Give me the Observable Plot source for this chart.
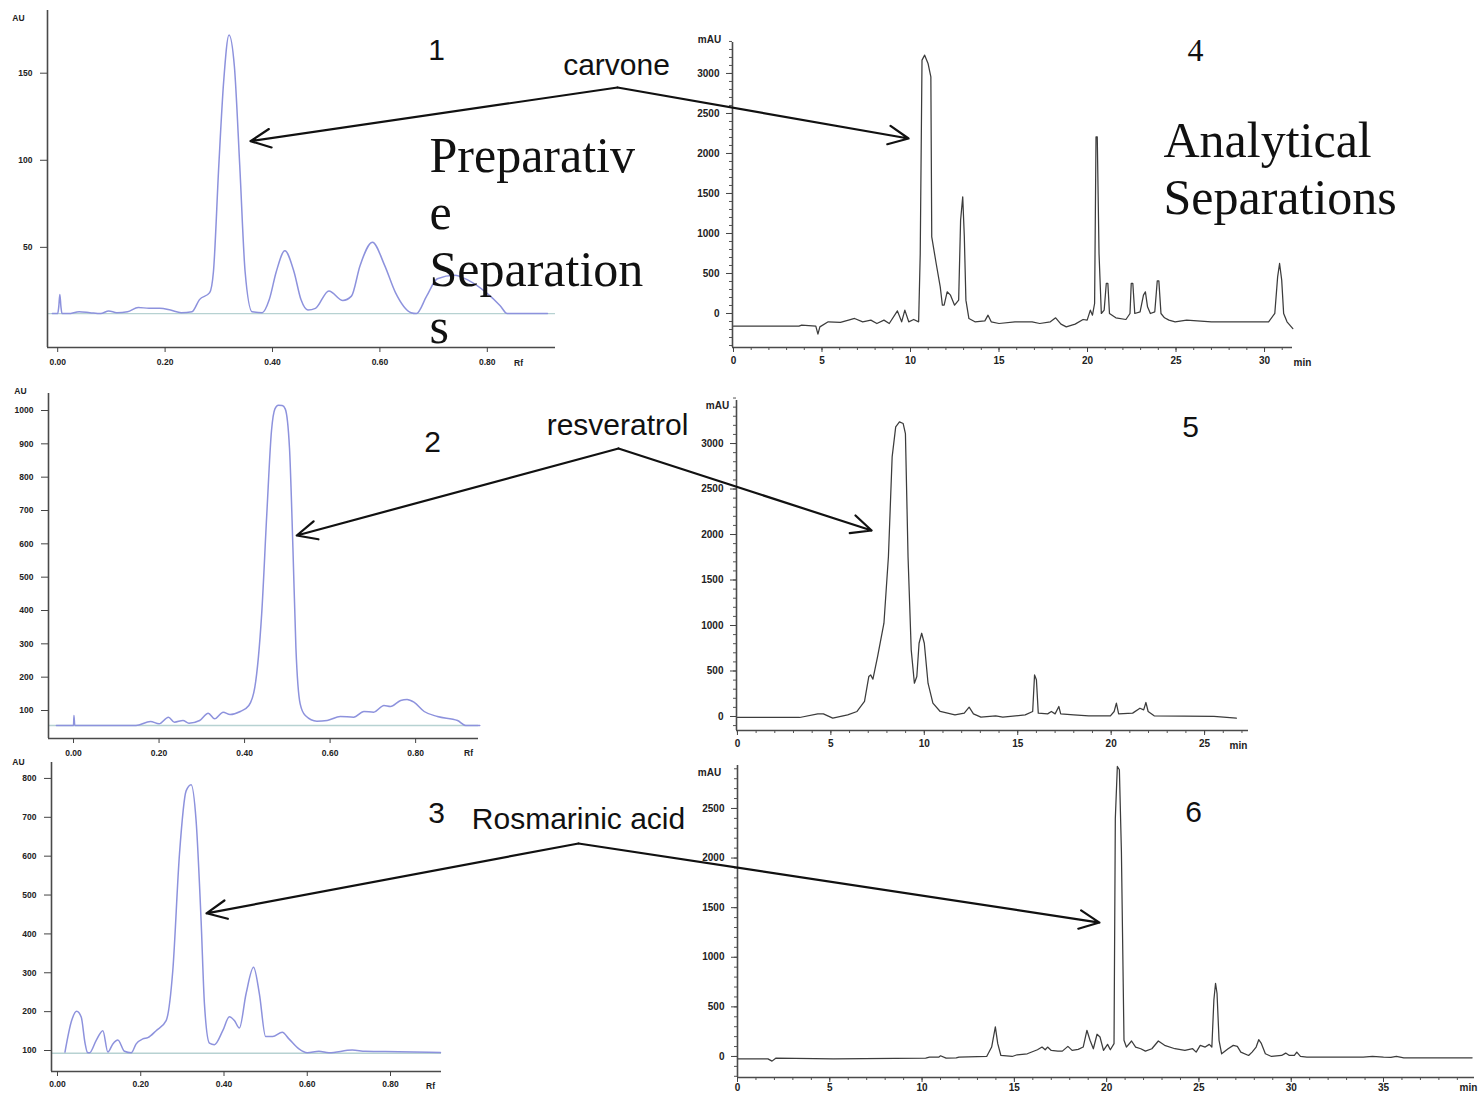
<!DOCTYPE html>
<html><head><meta charset="utf-8">
<script src="https://cdn.jsdelivr.net/npm/d3@7"></script>
<script src="https://cdn.jsdelivr.net/npm/@observablehq/plot@0.6"></script>
<style>
body{margin:0;background:#fff;}
#root{position:relative;width:1479px;height:1093px;overflow:hidden;background:#fff;}
</style></head><body><div id="root"></div>
<script>
// ---------- DATA ----------
// Panel 1: TLC densitogram (Rf vs AU)
const rf1 = [-0.010,0.000,0.002,0.004,0.006,0.008,0.020,0.040,0.060,0.080,0.095,0.110,0.130,0.150,0.170,0.190,0.210,0.230,0.250,0.264,0.283,0.290,0.300,0.309,0.319,0.329,0.339,0.349,0.362,0.381,0.394,0.407,0.423,0.440,0.453,0.466,0.480,0.505,0.531,0.547,0.563,0.586,0.609,0.629,0.658,0.668,0.687,0.707,0.739,0.765,0.798,0.824,0.837,0.912];
const au1 = [12,12,16,23,16,12,12,13,12.5,12,13.5,12.5,13,15.5,15,15,14,12.5,13,20,24,36,97,145,172,154,97,36,13,12.5,20,36,48,36,20,14,15,25,19.5,22,39.5,53,39.5,24,12.5,12,22,32,34,31,24,16.5,12,12];
// Panel 2
const rf2 = [-0.040,0.000,0.001,0.003,0.050,0.146,0.180,0.200,0.222,0.236,0.256,0.270,0.295,0.315,0.330,0.350,0.366,0.390,0.410,0.424,0.440,0.452,0.463,0.471,0.479,0.488,0.495,0.505,0.513,0.520,0.530,0.542,0.569,0.593,0.624,0.655,0.679,0.702,0.726,0.741,0.765,0.780,0.796,0.820,0.851,0.898,0.917,0.950];
const au2 = [55,55,85,55,55,55,67,60,80,65,70,62,70,92,75,95,88,97,115,170,390,690,940,1005,1016,1015,1005,888,590,290,120,85,68,70,82,80,97,95,115,112,130,133,125,97,82,70,55,55];
// Panel 3
const rf3 = [0.018,0.034,0.046,0.057,0.066,0.072,0.077,0.093,0.109,0.121,0.133,0.145,0.161,0.177,0.189,0.205,0.217,0.237,0.261,0.277,0.293,0.309,0.321,0.333,0.345,0.353,0.365,0.377,0.397,0.413,0.425,0.437,0.453,0.471,0.485,0.500,0.517,0.540,0.556,0.580,0.600,0.628,0.652,0.708,0.740,0.820,0.920];
const au3 = [96,177,201,186,120,95,94,126,151,96,117,127,98,94,117,130,133,151,177,306,605,768,784,691,434,220,119,115,151,187,177,158,246,314,246,136,136,147,130,104,94,98,94,101,98,97,95];
// Panel 4: HPLC (min vs mAU)
const t4 = [0,3.7,3.85,4.65,4.77,4.88,5.35,6.04,6.5,6.84,7.3,7.76,8.1,8.5,8.8,9.26,9.5,9.68,9.9,10.18,10.46,10.55,10.65,10.8,10.99,11.15,11.2,11.45,11.68,11.8,11.9,12.07,12.26,12.49,12.72,12.83,12.95,13.04,13.13,13.3,13.64,14.2,14.38,14.56,15.0,15.9,16.87,17.3,17.9,18.2,18.5,18.8,19.3,19.75,19.98,20.16,20.28,20.4,20.48,20.55,20.65,20.78,20.94,21.06,21.15,21.24,21.6,22.17,22.4,22.47,22.56,22.67,22.97,23.16,23.27,23.39,23.55,23.8,23.94,24.03,24.15,24.35,24.6,24.95,25.6,27,30.23,30.58,30.74,30.85,30.97,31.08,31.27,31.6];
const m4 = [-158,-158,-146,-158,-258,-167,-104,-110,-83,-62,-104,-83,-125,-83,-125,33,-104,42,-104,-75,-104,750,3167,3229,3125,2958,958,625,333,104,104,271,229,104,167,1167,1458,958,167,-63,-104,-92,-21,-104,-125,-104,-104,-125,-104,-54,-133,-167,-133,-75,-83,42,-21,125,2208,2208,750,0,42,375,375,0,-54,-75,0,375,375,0,21,229,271,83,0,21,408,408,0,-54,-83,-104,-83,-104,-104,0,458,625,417,0,-104,-188];
// Panel 5
const t5 = [0,3.33,4.3,4.6,5.1,5.9,6.4,6.8,7.03,7.13,7.25,7.5,7.84,8.08,8.28,8.47,8.67,8.87,8.99,9.13,9.3,9.47,9.6,9.72,9.86,10.0,10.2,10.46,10.85,11.64,12.14,12.4,12.63,13.03,13.82,14.2,15.4,15.8,15.9,16.0,16.1,16.6,16.8,17.0,17.2,17.3,18.0,18.8,19.96,20.16,20.28,20.4,21.15,21.54,21.74,21.86,21.98,22.3,25.5,26.7];
const m5 = [-11,-11,29,29,-18,18,55,165,439,457,410,659,1025,1756,2854,3183,3238,3220,3110,1756,732,366,439,805,915,805,366,146,55,18,37,102,29,-7,7,-7,18,55,457,403,37,29,55,29,110,29,18,7,7,55,146,29,37,91,73,154,55,7,0,-18];
// Panel 6
const t6 = [0,1.65,1.87,2.07,5.2,10.2,10.4,10.9,11.0,11.3,11.85,12.0,13.5,13.77,13.97,14.1,14.27,14.88,15.15,15.7,16.25,16.5,16.67,16.8,17.0,17.36,17.6,17.9,18.13,18.46,18.73,18.93,19.1,19.28,19.48,19.64,19.83,20.05,20.2,20.4,20.47,20.58,20.69,20.8,20.94,21.07,21.35,21.57,21.85,22.1,22.45,22.8,23.14,23.7,24.24,24.66,24.85,25.07,25.34,25.56,25.7,25.81,25.9,25.98,26.09,26.23,26.58,26.86,27.08,27.27,27.69,27.88,28.1,28.24,28.37,28.6,28.93,29.48,29.7,29.9,30.17,30.3,30.5,30.85,33.9,34.4,35.0,35.4,35.7,36.1,39.8];
const m6 = [-24,-24,-47,-17,-24,-17,-7,-7,7,-17,-14,-7,0,95,298,129,10,0,17,27,68,95,68,95,61,54,54,102,61,71,95,264,163,78,224,196,61,122,68,129,2398,2923,2890,2060,163,95,156,95,78,54,78,156,112,78,61,78,44,112,95,122,95,569,738,637,163,27,78,112,102,44,10,44,95,169,135,27,0,10,34,10,10,44,0,-7,-7,0,-7,-10,0,-14,-14];

// Tick values
const rfTicks = [0, 0.2, 0.4, 0.6, 0.8];
const au1Ticks = [50, 100, 150];
const au2Ticks = [100, 200, 300, 400, 500, 600, 700, 800, 900, 1000];
const au3Ticks = [100, 200, 300, 400, 500, 600, 700, 800];
const min4Ticks = [0, 5, 10, 15, 20, 25, 30];
const min5Ticks = [0, 5, 10, 15, 20, 25];
const min6Ticks = [0, 5, 10, 15, 20, 25, 30, 35];
const mau4Ticks = [0, 500, 1000, 1500, 2000, 2500, 3000];
const mau5Ticks = [0, 500, 1000, 1500, 2000, 2500, 3000];
const mau6Ticks = [0, 500, 1000, 1500, 2000, 2500];

// Annotation texts
const panelNumbers = ["1", "2", "3", "4", "5", "6"];
const compounds = ["carvone", "resveratrol", "Rosmarinic acid"];
// target of each arrow, in the data units of the panel it points at [x, y]
const targets = [[0.359, 111], [9.89, 2187], [0.522, 625], [7.18, 2044], [0.358, 453], [19.61, 1350]];
const headings = ["Preparativ\ne\nSeparation\ns", "Analytical\nSeparations"];

// ---------- LAYOUT ----------
const PAGE_W = 1479, PAGE_H = 1093;
const zip = (a, b) => a.map((v, i) => ({x: v, y: b[i]}));
const range = (a, b, s) => d3.range(a, b + s / 2, s);

const panels = [
  {kind:"tlc", pts: zip(rf1, au1), frame:{l:47,r:555,t:10,b:347},  x:[-0.019,0.927], y:[-7.5,186], xt:rfTicks, yt:au1Ticks, base:12, ylab:"AU", yl:[-29,8],  xlab:"Rf", xl:[-37,16], pad:6},
  {kind:"tlc", pts: zip(rf2, au2), frame:{l:48,r:478,t:393,b:738}, x:[-0.0585,0.947], y:[16,1051], xt:rfTicks, yt:au2Ticks, base:55, ylab:"AU", yl:[-28,-2], xlab:"Rf", xl:[-10,15], pad:6},
  {kind:"tlc", pts: zip(rf3, au3), frame:{l:51,r:441,t:762,b:1071}, x:[-0.0144,0.9225], y:[46,841], xt:rfTicks, yt:au3Ticks, base:93, ylab:"AU", yl:[-33,0], xlab:"Rf", xl:[-11,15], pad:4},
  {kind:"lc", pts: zip(t4, m4), frame:{l:732,r:1292,t:42,b:347},  x:[-0.056,31.58], y:[-425,3387], xt:min4Ticks, yt:mau4Ticks, ylab:"mAU", yl:[-23,-3], xlab:"min", xl:[10,15], pad:4},
  {kind:"lc", pts: zip(t5, m5), frame:{l:736,r:1248,t:400,b:730}, x:[-0.05,27.35], y:[-154,3473], xt:min5Ticks, yt:mau5Ticks, ylab:"mAU", yl:[-19,5], xlab:"min", xl:[-10,15], pad:4},
  {kind:"lc", pts: zip(t6, m6), frame:{l:737,r:1474,t:765,b:1077}, x:[0,39.93], y:[-212,2933], xt:min6Ticks, yt:mau6Ticks, ylab:"mAU", yl:[-28,7], xlab:"min", xl:[-6,10], pad:1}
];

const root = document.getElementById("root");
const SANS = "Liberation Sans, Arial, sans-serif";
const SERIF = "Liberation Serif, Times New Roman, serif";
const placed = [];

panels.forEach((p, i) => {
  // keep every panel's SVG box inside the page
  const ML = Math.min(52, p.frame.l), MR = Math.min(42, PAGE_W - p.frame.r);
  const MT = Math.min(18, p.frame.t), MB = Math.min(28, PAGE_H - p.frame.b);
  const W = p.frame.r - p.frame.l + ML + MR;
  const H = p.frame.b - p.frame.t + MT + MB;
  const left = p.frame.l - ML, top = p.frame.t - MT;
  const tlc = p.kind === "tlc";
  const fs = tlc ? 8.5 : 10;
  const marks = [];
  if (tlc) marks.push(Plot.ruleY([p.base], {stroke: "#b7d2d2", strokeWidth: 1.3}));
  marks.push(Plot.line(p.pts, {x: "x", y: "y", stroke: tlc ? "#8d92dd" : "#3c3c3c", strokeWidth: tlc ? 1.5 : 1.25, curve: tlc ? "monotone-x" : "linear"}));
  if (!tlc) {
    // minor ticks (unlabelled): zero-length rules on the axis, extended outward by negative insets
    marks.push(Plot.ruleX(range(0, Math.floor(p.x[1]), 1), {y1: p.y[0], y2: p.y[0], insetBottom: -3, insetTop: 0, stroke: "#555", strokeWidth: 1}));
    marks.push(Plot.ruleY(range(Math.ceil(p.y[0] / 100) * 100, p.y[1], 100), {x1: p.x[0], x2: p.x[0], insetLeft: -3, insetRight: 0, stroke: "#555", strokeWidth: 1}));
  }
  marks.push(Plot.ruleX([p.x[0]], {stroke: "#4a4a4a", strokeWidth: 1.6}));
  marks.push(Plot.ruleY([p.y[0]], {stroke: "#4a4a4a", strokeWidth: 1.6}));
  marks.push(Plot.axisX({ticks: p.xt, tickSize: 5, tickPadding: p.pad, tickFormat: tlc ? d3.format(".2f") : d3.format("d"),
    fontSize: fs, fontWeight: "bold", fontFamily: SANS, label: null, stroke: "#444"}));
  marks.push(Plot.axisY({ticks: p.yt, tickSize: tlc ? 7 : 6, tickPadding: tlc ? 8 : 7, tickFormat: d3.format("d"),
    fontSize: fs, fontWeight: "bold", fontFamily: SANS, label: null, stroke: "#444"}));
  marks.push(Plot.text([p.ylab], {text: d => d, frameAnchor: "top-left", dx: p.yl[0], dy: p.yl[1], fontSize: fs, fontWeight: "bold", fontFamily: SANS, textAnchor: "middle", lineAnchor: "middle"}));
  marks.push(Plot.text([p.xlab], {text: d => d, frameAnchor: "bottom-right", dx: p.xl[0], dy: p.xl[1], fontSize: fs, fontWeight: "bold", fontFamily: SANS, textAnchor: "middle", lineAnchor: "middle"}));

  const chart = Plot.plot({
    width: W, height: H, marginLeft: ML, marginRight: MR, marginTop: MT, marginBottom: MB,
    x: {domain: p.x, label: null},
    y: {domain: p.y, label: null},
    style: {position: "absolute", left: left + "px", top: top + "px", background: "transparent", overflow: "visible", color: "#222"},
    marks
  });
  root.appendChild(chart);
  placed.push({chart, left, top});
});

// page position of a data point in a given panel
function toPage(i, [x, y]) {
  const c = placed[i];
  return [c.left + c.chart.scale("x").apply(x), c.top + c.chart.scale("y").apply(y)];
}

// Arrow origins: bottom-centre of each compound label; left arrow to panel 1/2/3, right to 4/5/6
const labelLayout = [
  {cx: 616, cy: 65, ox: 617, oy: 87},
  {cx: 617, cy: 425, ox: 618, oy: 448},
  {cx: 578, cy: 819, ox: 578, oy: 843}
];
const arrowRows = [];
labelLayout.forEach((L, k) => {
  [k, k + 3].forEach(pi => {
    const ti = [0, 2, 4][k] + (pi === k ? 0 : 1);
    const [x2, y2] = toPage(pi, targets[ti]);
    arrowRows.push({x1: L.ox, y1: L.oy, x2, y2});
  });
});

const numberLayout = [[436, 50, SANS], [432, 442, SANS], [436, 813, SANS], [1195, 50, SERIF], [1190, 427, SANS], [1193, 812, SANS]];
const numberRows = panelNumbers.map((t, i) => ({t, x: numberLayout[i][0], y: numberLayout[i][1], f: numberLayout[i][2]}));
const compoundRows = compounds.map((t, i) => ({t, x: labelLayout[i].cx, y: labelLayout[i].cy}));
const headingRows = [{t: headings[0], x: 429, y: 131}, {t: headings[1], x: 1163, y: 116}];

const overlay = Plot.plot({
  width: PAGE_W, height: PAGE_H, margin: 0,
  x: {type: "identity", axis: null}, y: {type: "identity", axis: null},
  style: {position: "absolute", left: "0px", top: "0px", background: "transparent", overflow: "visible"},
  marks: [
    Plot.arrow(arrowRows, {x1: "x1", y1: "y1", x2: "x2", y2: "y2", stroke: "#111", strokeWidth: 2.2, headLength: 15, headAngle: 50}),
    Plot.text(numberRows.filter(d => d.f === SANS), {x: "x", y: "y", text: "t", fontSize: 30, fontFamily: SANS, textAnchor: "middle", lineAnchor: "middle", fill: "#111"}),
    Plot.text(numberRows.filter(d => d.f === SERIF), {x: "x", y: "y", text: "t", fontSize: 32, fontFamily: SERIF, textAnchor: "middle", lineAnchor: "middle", fill: "#111"}),
    Plot.text(compoundRows, {x: "x", y: "y", text: "t", fontSize: 30, fontFamily: SANS, textAnchor: "middle", lineAnchor: "middle", fill: "#111"}),
    Plot.text(headingRows, {x: "x", y: "y", text: "t", fontSize: 50, fontFamily: SERIF, textAnchor: "start", lineAnchor: "top", lineHeight: 1.14, fill: "#111"})
  ]
});
root.appendChild(overlay);
</script>
</body></html>
